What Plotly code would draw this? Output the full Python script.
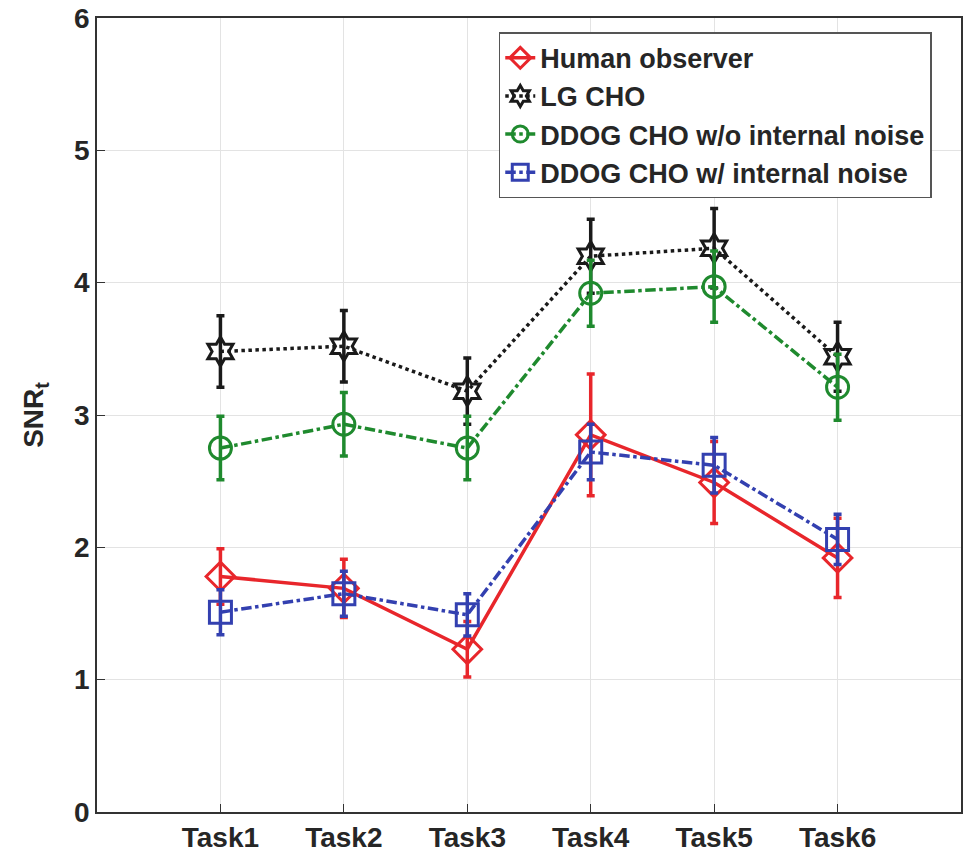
import plotly.graph_objects as go

tasks = ["Task1", "Task2", "Task3", "Task4", "Task5", "Task6"]
x_pos = [1, 2, 3, 4, 5, 6]

human = [1.78, 1.69, 1.23, 2.85, 2.49, 1.92]
human_err = [0.21, 0.22, 0.21, 0.46, 0.31, 0.30]

lg_cho = [3.48, 3.52, 3.18, 4.20, 4.26, 3.44]
lg_err = [0.27, 0.27, 0.25, 0.28, 0.30, 0.26]

ddog_wo = [2.75, 2.93, 2.75, 3.92, 3.97, 3.21]
ddog_wo_err = [0.24, 0.24, 0.24, 0.25, 0.27, 0.25]

ddog_w = [1.51, 1.65, 1.49, 2.72, 2.62, 2.06]
ddog_w_err = [0.17, 0.17, 0.16, 0.21, 0.21, 0.19]

series = [
    ("Human observer", human, human_err, "#e8262b", "solid", "diamond-open"),
    ("LG CHO", lg_cho, lg_err, "#1a1a1a", "dot", "hexagram-open"),
    ("DDOG CHO w/o internal noise", ddog_wo, ddog_wo_err, "#1f8a2e", "dashdot", "circle-open"),
    ("DDOG CHO w/ internal noise", ddog_w, ddog_w_err, "#3340b0", "dashdot", "square-open"),
]

fig = go.Figure()
for name, y, e, c, dash, sym in series:
    fig.add_trace(go.Scatter(
        x=x_pos, y=y, name=name, mode="lines+markers",
        line=dict(color=c, width=3.5, dash=dash),
        marker=dict(symbol=sym, size=22, color=c, line=dict(width=3, color=c)),
        error_y=dict(type="data", array=e, visible=True, color=c, thickness=3.5, width=4),
    ))

font = "Liberation Sans, Arial, sans-serif"
fig.update_layout(
    width=966, height=856,
    margin=dict(l=97, r=3, t=16, b=44),
    paper_bgcolor="white", plot_bgcolor="white",
    font=dict(family=font, size=26, color="#262626"),
    showlegend=True,
    legend=dict(
        x=0.465, y=0.982, xanchor="left", yanchor="top",
        bgcolor="white", bordercolor="#555555", borderwidth=1.5,
        font=dict(family=font, size=27, color="#262626", weight="bold"),
        itemwidth=30, tracegroupgap=0,
    ),
)
fig.update_xaxes(
    range=[0, 7], tickvals=x_pos, ticktext=[f"<b>{t}</b>" for t in tasks],
    showgrid=True, gridcolor="#e3e3e3", gridwidth=1,
    showline=True, linecolor="#333333", linewidth=1.5, mirror=True,
    ticks="inside", ticklen=8, tickcolor="#333333",
    tickfont=dict(family=font, size=28, color="#262626"),
    zeroline=False,
)
fig.update_yaxes(
    range=[0, 6], tickvals=[0, 1, 2, 3, 4, 5, 6],
    ticktext=[f"<b>{v}</b>" for v in range(7)],
    showgrid=True, gridcolor="#e3e3e3", gridwidth=1,
    showline=True, linecolor="#333333", linewidth=1.5, mirror=True,
    ticks="inside", ticklen=8, tickcolor="#333333",
    tickfont=dict(family=font, size=28, color="#262626"),
    title=dict(text="<b>SNR<sub>t</sub></b>", font=dict(family=font, size=28, color="#262626"), standoff=22),
    zeroline=False,
)

fig.write_html("out.html")
